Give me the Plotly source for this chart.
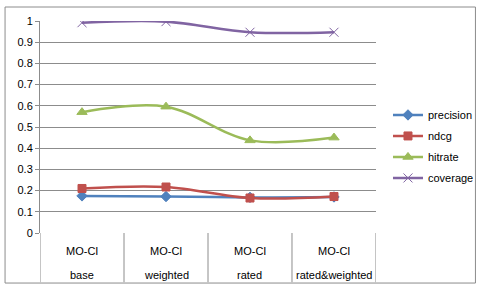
import plotly.graph_objects as go

categories = ["base", "weighted", "rated", "rated&weighted"]
group_label = "MO-CI"
precision = [0.175, 0.172, 0.168, 0.170]
ndcg = [0.210, 0.217, 0.165, 0.172]
hitrate = [0.570, 0.596, 0.437, 0.450]
coverage = [0.992, 0.997, 0.947, 0.947]
y_ticks = [0, 0.1, 0.2, 0.3, 0.4, 0.5, 0.6, 0.7, 0.8, 0.9, 1]
y_ticktext = ["0", "0.1", "0.2", "0.3", "0.4", "0.5", "0.6", "0.7", "0.8", "0.9", "1"]

series = [
    ("precision", precision, "#4F81BD", "diamond", 8),
    ("ndcg", ndcg, "#C0504D", "square", 8),
    ("hitrate", hitrate, "#9BBB59", "triangle-up", 9),
    ("coverage", coverage, "#8064A2", "x-thin", 9),
]

xs = list(range(len(categories)))
FONT = "Liberation Sans"

fig = go.Figure()
for name, vals, color, sym, size in series:
    fig.add_trace(go.Scatter(
        x=xs, y=vals, name=name, mode="lines+markers",
        line=dict(color=color, width=2.5, shape="spline", smoothing=1.0),
        marker=dict(symbol=sym, size=size, color=color,
                    line=dict(color=color, width=1)),
        legendgroup=name,
    ))

grid = "#8C8C8C"
shapes = []
# category dividers below the axis
for i in range(len(categories) + 1):
    shapes.append(dict(type="line", xref="x", yref="paper",
                       x0=i - 0.5, x1=i - 0.5, y0=0, y1=-0.232,
                       line=dict(color=grid, width=1)))
# outer chart border
shapes.append(dict(type="rect", xref="paper", yref="paper",
                   x0=-0.104, x1=1.296, y0=1.066, y1=-0.236,
                   line=dict(color="#8C8C8C", width=1)))

annotations = []
for i, c in enumerate(categories):
    annotations.append(dict(x=i, y=-0.083, xref="x", yref="paper",
                            text=group_label, showarrow=False,
                            font=dict(family=FONT, size=11, color="#000"),
                            yanchor="middle"))
    annotations.append(dict(x=i, y=-0.196, xref="x", yref="paper",
                            text=c, showarrow=False,
                            font=dict(family=FONT, size=11, color="#000"),
                            yanchor="middle"))

fig.update_layout(
    width=479, height=287,
    margin=dict(l=40, r=101, t=21, b=54),
    paper_bgcolor="white", plot_bgcolor="white",
    font=dict(family=FONT, size=11, color="#000"),
    showlegend=True,
    legend=dict(xref="container", yref="container", x=0.81, y=0.65,
                xanchor="left", yanchor="top",
                font=dict(family=FONT, size=11, color="#000"),
                tracegroupgap=2, traceorder="grouped",
                bgcolor="rgba(0,0,0,0)", itemwidth=30),
    xaxis=dict(range=[-0.5, len(categories) - 0.5], showticklabels=False,
               showgrid=False, zeroline=False, showline=False, ticks=""),
    yaxis=dict(range=[0, 1], tickvals=y_ticks, ticktext=y_ticktext,
               showgrid=True, gridcolor=grid, gridwidth=1,
               zeroline=False, showline=True, linecolor=grid, linewidth=1,
               ticks="outside", ticklen=4, tickcolor=grid,
               tickfont=dict(family=FONT, size=11, color="#000")),
    shapes=shapes, annotations=annotations,
)

fig.write_html("out.html", config={"displayModeBar": False},
               post_script="document.body.style.margin='0';document.body.style.overflow='hidden';")
